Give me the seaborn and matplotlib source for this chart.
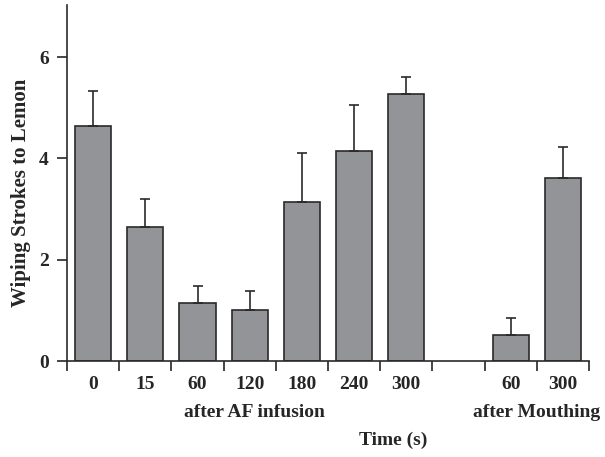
import matplotlib
matplotlib.use("Agg")
import matplotlib.pyplot as plt
import seaborn as sns
import pandas as pd
import numpy as np

# Data
positions = [0, 1, 2, 3, 4, 5, 6, 8, 9]
tick_labels = ["0", "15", "60", "120", "180", "240", "300", "", "60", "300"]
means = [4.64, 2.65, 1.15, 1.01, 3.14, 4.15, 5.28, 0.52, 3.61]
sems = [0.70, 0.55, 0.34, 0.37, 0.96, 0.91, 0.33, 0.33, 0.61]
group_labels = ["after AF infusion", "after Mouthing"]

sns.set_style("ticks")
plt.rcParams["font.family"] = ["Liberation Serif", "DejaVu Serif"]
plt.rcParams["font.weight"] = "bold"

fig = plt.figure(figsize=(6.05, 4.57), dpi=100)
ax = fig.add_axes([67 / 605, 1 - 361 / 457, 522 / 605, 356 / 457])

# Build a 10-slot categorical table (slot 7 empty)
slots = list(range(10))
vals = [np.nan] * 10
for p, m in zip(positions, means):
    vals[p] = m
df = pd.DataFrame({"slot": slots, "value": vals})

sns.barplot(data=df, x="slot", y="value", order=slots, color="#939498",
            saturation=1, width=0.69, edgecolor="#2a2a2a", linewidth=1.2,
            errorbar=None, ax=ax)

ax.errorbar(positions, means, yerr=[np.zeros(len(sems)), sems], fmt="none",
            ecolor="#2a2a2a", elinewidth=1.2, capsize=3.3, capthick=1.2, zorder=1)

ax.set_xlim(-0.5, 9.5)
ax.set_ylim(0, 7.03)
ax.set_xticks([s - 0.5 for s in range(11)])
ax.set_xticklabels([])
ax.set_xticks(slots, minor=True)
ax.set_xticklabels(tick_labels, minor=True)
ax.tick_params(axis="x", which="major", length=7, width=1.2, direction="out")
ax.tick_params(axis="x", which="minor", length=0, labelsize=14, pad=11)
ax.set_yticks([0, 2, 4, 6])
ax.set_yticklabels(["0", "2", "4", "6"])
ax.tick_params(axis="y", length=7, width=1.2, labelsize=14, pad=6)
for s in ["top", "right"]:
    ax.spines[s].set_visible(False)
for s in ["left", "bottom"]:
    ax.spines[s].set_linewidth(1.2)
    ax.spines[s].set_color("#2a2a2a")

ax.set_xlabel("")
ax.set_ylabel("Wiping Strokes to Lemon", fontsize=15, fontweight="bold")
ax.yaxis.set_label_coords(-0.069, 0.473)

ax.text(3.1, -0.145, group_labels[0], transform=ax.get_xaxis_transform(),
        ha="center", va="center", fontsize=14, fontweight="bold")
ax.text(8.5, -0.145, group_labels[1], transform=ax.get_xaxis_transform(),
        ha="center", va="center", fontsize=14, fontweight="bold")
ax.text(0.625, -0.222, "Time (s)", transform=ax.transAxes,
        ha="center", va="center", fontsize=14, fontweight="bold")

fig.savefig("out.png", dpi=100)
